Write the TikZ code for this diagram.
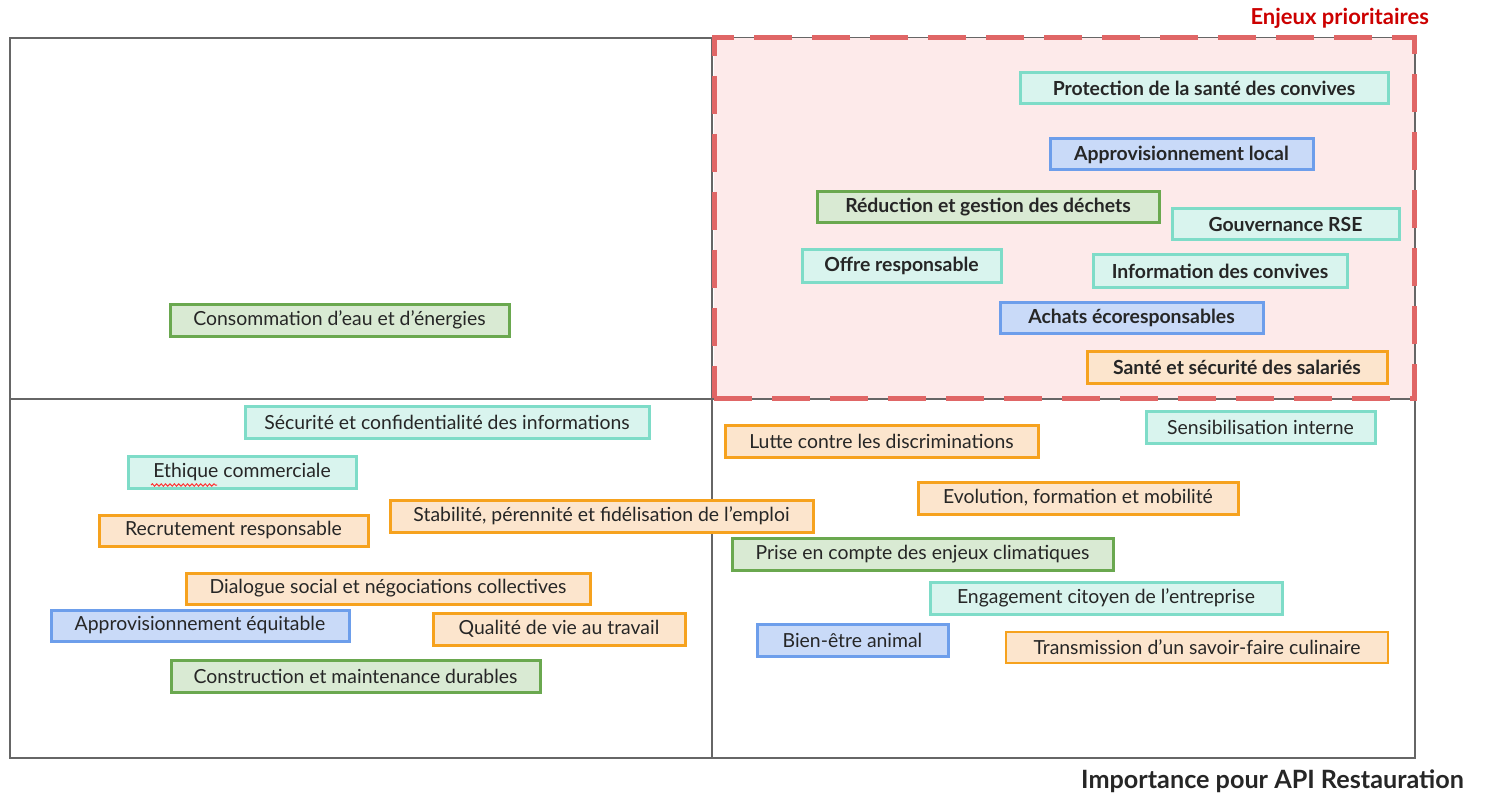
\documentclass[tikz,border=0pt]{standalone}
\usepackage{fontspec}
\setmainfont{Lato}
\usetikzlibrary{decorations.pathmorphing}
\definecolor{framegray}{HTML}{666666}
\definecolor{redline}{HTML}{E06666}
\definecolor{redfill}{HTML}{FDEAEA}
\definecolor{redtext}{HTML}{CC0000}
\definecolor{tealline}{HTML}{7EDCC8}
\definecolor{tealfill}{HTML}{D9F4EE}
\definecolor{greenline}{HTML}{6AA84F}
\definecolor{greenfill}{HTML}{D9EAD3}
\definecolor{blueline}{HTML}{6D9EEB}
\definecolor{bluefill}{HTML}{C9DAF8}
\definecolor{orangeline}{HTML}{F6A21E}
\definecolor{orangefill}{HTML}{FCE5CD}
\newcommand\issue[7]{\node[#2, minimum width={(#5-#3)*0.5pt}, minimum height={(#6-#4)*0.5pt}] (#1) at ({(#3+#5)/2},{(#4+#6)/2}) {#7};}
\begin{document}
\begin{tikzpicture}[x=0.5pt,y=-0.5pt,
  issuebox/.style={draw, line width=1.5pt, inner sep=0pt, font=\fontsize{9.7}{11}\selectfont, text=black!85},
  teal/.style={issuebox, draw=tealline, fill=tealfill},
  green/.style={issuebox, draw=greenline, fill=greenfill},
  blue/.style={issuebox, draw=blueline, fill=bluefill},
  orange/.style={issuebox, draw=orangeline, fill=orangefill},
  strong/.style={font=\fontsize{9.7}{11}\selectfont\bfseries},
  frameline/.style={draw=framegray, line width=0.75pt}]
\useasboundingbox (0,0) rectangle (1485,797);
% frame
\coordinate (tl) at (10,38);
\coordinate (br) at (1415,758);
\coordinate (vt) at (712,38);
\coordinate (vb) at (712,758);
\coordinate (hl) at (10,399);
\coordinate (hr) at (1415,399);
\draw[frameline] (tl) rectangle (br);
\draw[frameline] (vt) -- (vb);
\draw[frameline] (hl) -- (hr);
% priority zone
\node[fill=redfill, draw=redline, line width=2.5pt, dash pattern=on 19pt off 10pt, inner sep=0pt, minimum width=350pt, minimum height=180pt] (zone) at (1064,218) {};
\node[anchor=east, text=redtext, font=\fontsize{11}{13}\selectfont\bfseries] (enjeux) at (1436,18) {Enjeux prioritaires};
\node[anchor=east, text=black!85, font=\fontsize{12.6}{15}\selectfont\bfseries] (axis) at (1471,781) {Importance pour API Restauration};
% top right (priority)
\issue{p1}{teal,strong}{1020}{73}{1388}{104}{Protection de la santé des convives}
\issue{p2}{blue,strong}{1050}{139}{1313}{170}{Approvisionnement local}
\issue{p3}{green,strong}{817}{192}{1159}{223}{Réduction et gestion des déchets}
\issue{p4}{teal,strong}{1172}{209}{1399}{240}{Gouvernance RSE}
\issue{p5}{teal,strong}{802}{250}{1001}{282}{Offre responsable}
\issue{p6}{teal,strong}{1093}{255}{1347}{287}{Information des convives}
\issue{p7}{blue,strong}{1000}{302}{1263}{333}{Achats écoresponsables}
\issue{p8}{orange,strong}{1087}{351}{1387}{383}{Santé et sécurité des salariés}
% top left
\issue{a1}{green}{170}{304}{509}{336}{Consommation d’eau et d’énergies}
% bottom left
\issue{b1}{teal}{245}{406}{649}{438}{Sécurité et confidentialité des informations}
\issue{b2}{teal}{128}{456}{356}{488}{Ethique commerciale}
\issue{b3}{orange}{99}{515}{368}{546}{Recrutement responsable}
\issue{b4}{orange}{390}{500}{813}{532}{Stabilité, pérennité et fidélisation de l’emploi}
\issue{b5}{orange}{186}{573}{590}{604}{Dialogue social et négociations collectives}
\issue{b6}{blue}{51}{610}{349}{641}{Approvisionnement équitable}
\issue{b7}{orange}{433}{613}{685}{645}{Qualité de vie au travail}
\issue{b8}{green}{171}{660}{540}{692}{Construction et maintenance durables}
% wavy underline
\coordinate (w1) at (151,485);
\coordinate (w2) at (217,485);
\draw[red!80, line width=0.5pt, decorate, decoration={snake, amplitude=0.6pt, segment length=2.2pt}] (w1) -- (w2);
% bottom right
\issue{c1}{orange}{725}{425}{1038}{457}{Lutte contre les discriminations}
\issue{c2}{teal}{1146}{411}{1375}{443}{Sensibilisation interne}
\issue{c3}{orange}{918}{482}{1238}{514}{Evolution, formation et mobilité}
\issue{c4}{green}{732}{538}{1113}{570}{Prise en compte des enjeux climatiques}
\issue{c5}{teal}{930}{582}{1282}{614}{Engagement citoyen de l’entreprise}
\issue{c6}{blue}{757}{624}{948}{656}{Bien-être animal}
\issue{c7}{orange, line width=0.8pt}{1006}{632}{1388}{663}{Transmission d’un savoir-faire culinaire}
\end{tikzpicture}
\end{document}
